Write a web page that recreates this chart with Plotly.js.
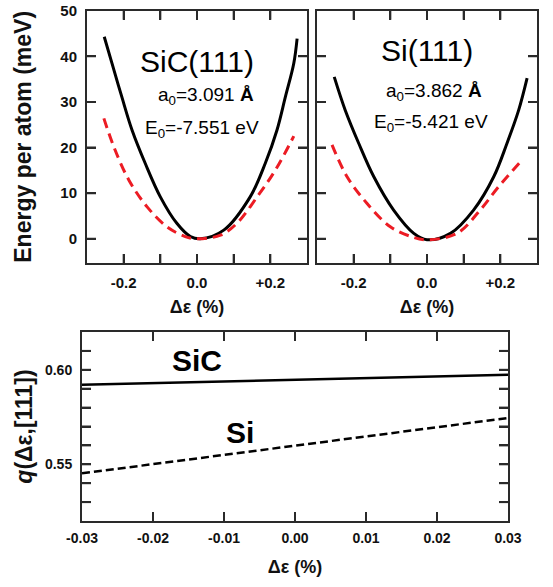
<!DOCTYPE html>
<html>
<head>
<meta charset="utf-8">
<script src="https://cdn.plot.ly/plotly-3.0.1.min.js"></script>
</head>
<body style="margin:0;background:#ffffff">
<div id="chart" style="width:553px;height:587px"></div>
<script>
// Energy per atom vs. strain along [111], calculated (solid) and model (dashed)
const sicStrain      = [-0.253, -0.232, -0.205, -0.177, -0.141, -0.100, -0.055, -0.018, 0.009, 0.073, 0.145, 0.186, 0.218, 0.241, 0.264, 0.273];
const sicEnergy      = [44.3, 38.5, 31.1, 23.8, 16.5, 9.2, 3.4, 0.5, 0.0, 1.9, 9.2, 16.5, 23.8, 31.1, 38.5, 43.9];
const sicStrainModel = [-0.254, -0.227, -0.186, -0.136, -0.082, -0.032, 0.0, 0.064, 0.109, 0.164, 0.214, 0.264];
const sicEnergyModel = [26.4, 20.2, 12.9, 7.0, 2.65, 0.5, 0.0, 0.8, 3.4, 9.2, 15.1, 22.5];

const siStrain       = [-0.253, -0.223, -0.186, -0.145, -0.091, -0.036, 0.0, 0.064, 0.127, 0.182, 0.218, 0.250, 0.273];
const siEnergy       = [35.5, 28.2, 20.9, 13.6, 6.3, 1.2, -0.2, 1.2, 6.3, 13.6, 20.9, 28.2, 35.2];
const siStrainModel  = [-0.259, -0.218, -0.164, -0.100, -0.040, 0.0, 0.082, 0.145, 0.195, 0.255];
const siEnergyModel  = [20.6, 13.6, 7.8, 2.65, 0.4, -0.2, 1.2, 6.3, 11.4, 16.9];

// q(Δε,[111]) over a small strain window
const smallStrain = [-0.03, 0.0, 0.03];
const qSiC        = [0.5921, 0.5947, 0.5974];
const qSi         = [0.5452, 0.5598, 0.5745];

// tick positions and labels
const topTickVals   = [-0.2, -0.1, 0.0, 0.1, 0.2];
const topTickText   = ['-0.2', ' ', '0.0', ' ', '+0.2'];
const energyTicks   = [0, 10, 20, 30, 40, 50];
const smallTickVals = [-0.03, -0.02, -0.01, 0.0, 0.01, 0.02, 0.03];
const smallTickText = ['-0.03', '-0.02', '-0.01', '0.00', '0.01', '0.02', '0.03'];
const qTickVals     = [0.53, 0.54, 0.55, 0.56, 0.57, 0.58, 0.59, 0.60, 0.61];
const qTickText     = [' ', ' ', '0.55', ' ', ' ', ' ', ' ', '0.60', ' '];

const FONT = 'Arial, "Liberation Sans", Helvetica, sans-serif';
const FRAME = '#2a2a2a';
const RED = '#ec1c24';

const STRAIN_RANGE = [-0.3, 0.3];
const ENERGY_RANGE = [-5.3, 50];
const SMALL_RANGE  = [-0.03, 0.03];
const Q_RANGE      = [0.52, 0.62];

function frameAxis(extra) {
  return Object.assign({
    showline: true, linecolor: FRAME, linewidth: 2, mirror: 'ticks',
    ticks: 'inside', ticklen: 9, tickwidth: 2, tickcolor: FRAME,
    showgrid: false, zeroline: false, layer: 'above traces',
    tickfont: { family: FONT, size: 15, color: '#111', weight: 'bold' },
    ticklabelstandoff: 5
  }, extra);
}

// Inward tick marks on all four sides of a panel, drawn as one line trace.
// lenX / lenY: tick length as a fraction of the axis span.
function tickTrace(xa, ya, xr, yr, xvals, yvals, lenX, lenY) {
  const dx = (xr[1] - xr[0]) * lenX, dy = (yr[1] - yr[0]) * lenY;
  const x = [], y = [];
  xvals.forEach(v => {
    x.push(v, v, null, v, v, null);
    y.push(yr[0], yr[0] + dy, null, yr[1], yr[1] - dy, null);
  });
  yvals.forEach(v => {
    x.push(xr[0], xr[0] + dx, null, xr[1], xr[1] - dx, null);
    y.push(v, v, null, v, v, null);
  });
  return { x, y, xaxis: xa, yaxis: ya, mode: 'lines', hoverinfo: 'skip',
           line: { color: FRAME, width: 2 }, connectgaps: false, cliponaxis: false };
}

const solid = (w) => ({ color: '#000', width: w, shape: 'spline', smoothing: 1 });
const redDash = { color: RED, width: 3, dash: '10px,6px', shape: 'spline', smoothing: 1 };

const innerEnergyTicks = energyTicks.filter(v => v < ENERGY_RANGE[1]);
const innerSmallTicks = smallTickVals.slice(1, -1);

const traces = [
  tickTrace('x', 'y', STRAIN_RANGE, ENERGY_RANGE, topTickVals, innerEnergyTicks, 9 / 220, 9 / 252),
  tickTrace('x2', 'y2', STRAIN_RANGE, ENERGY_RANGE, topTickVals, innerEnergyTicks, 9 / 220, 9 / 252),
  tickTrace('x3', 'y3', SMALL_RANGE, Q_RANGE, innerSmallTicks, qTickVals, 9 / 426, 9 / 189),
  { x: sicStrain, y: sicEnergy, xaxis: 'x', yaxis: 'y', mode: 'lines', line: solid(3) },
  { x: sicStrainModel, y: sicEnergyModel, xaxis: 'x', yaxis: 'y', mode: 'lines', line: redDash },
  { x: siStrain, y: siEnergy, xaxis: 'x2', yaxis: 'y2', mode: 'lines', line: solid(3) },
  { x: siStrainModel, y: siEnergyModel, xaxis: 'x2', yaxis: 'y2', mode: 'lines', line: redDash },
  { x: smallStrain, y: qSiC, xaxis: 'x3', yaxis: 'y3', mode: 'lines',
    line: { color: '#000', width: 2.5 } },
  { x: smallStrain, y: qSi, xaxis: 'x3', yaxis: 'y3', mode: 'lines',
    line: { color: '#000', width: 2.5, dash: '8px,4px' } }
];

const W = 553, H = 587;
const titleFont = (s) => ({ family: FONT, size: s, color: '#111', weight: 'bold' });
const labelFont = (s) => ({ family: FONT, size: s, color: '#000' });

const layout = {
  width: W, height: H,
  margin: { l: 0, r: 0, t: 0, b: 0 },
  paper_bgcolor: '#ffffff', plot_bgcolor: '#ffffff',
  showlegend: false,
  xaxis: frameAxis({ domain: [87 / W, 307 / W], anchor: 'y', range: STRAIN_RANGE,
    tickvals: topTickVals, ticktext: topTickText,
    title: { text: 'Δε (%)', font: titleFont(18), standoff: 10 } }),
  yaxis: frameAxis({ domain: [1 - 263 / H, 1 - 10.7 / H], anchor: 'x', range: ENERGY_RANGE,
    tickvals: energyTicks,
    title: { text: 'Energy per atom (meV)', font: titleFont(23), standoff: 22 } }),
  xaxis2: frameAxis({ domain: [317 / W, 537 / W], anchor: 'y2', range: STRAIN_RANGE,
    tickvals: topTickVals, ticktext: topTickText,
    title: { text: 'Δε (%)', font: titleFont(18), standoff: 10 } }),
  yaxis2: frameAxis({ domain: [1 - 263 / H, 1 - 10.7 / H], anchor: 'x2', range: ENERGY_RANGE,
    tickvals: energyTicks, showticklabels: false }),
  xaxis3: frameAxis({ domain: [82 / W, 508 / W], anchor: 'y3', range: SMALL_RANGE,
    tickvals: smallTickVals, ticktext: smallTickText, ticklabelstandoff: 3,
    tickfont: { family: FONT, size: 14, color: '#111', weight: 'bold' },
    title: { text: 'Δε (%)', font: titleFont(18), standoff: 16 } }),
  yaxis3: frameAxis({ domain: [1 - 521 / H, 1 - 332 / H], anchor: 'x3', range: Q_RANGE,
    tickvals: qTickVals, ticktext: qTickText,
    tickfont: { family: FONT, size: 14, color: '#111', weight: 'bold' },
    title: { text: '<i>q</i>(Δε,[111])', font: titleFont(23), standoff: 6 } }),
  annotations: [
    { xref: 'x', yref: 'y', x: 0.0, y: 38.9, text: 'SiC(111)', showarrow: false, font: labelFont(30) },
    { xref: 'x', yref: 'y', x: 0.024, y: 31.3, text: 'a<sub>0</sub>=3.091 <b>Å</b>', showarrow: false, font: labelFont(19) },
    { xref: 'x', yref: 'y', x: 0.014, y: 24.1, text: 'E<sub>0</sub>=-7.551 eV', showarrow: false, font: labelFont(19) },
    { xref: 'x2', yref: 'y2', x: 0.0, y: 41.2, text: 'Si(111)', showarrow: false, font: labelFont(30) },
    { xref: 'x2', yref: 'y2', x: 0.020, y: 32.2, text: 'a<sub>0</sub>=3.862 <b>Å</b>', showarrow: false, font: labelFont(19) },
    { xref: 'x2', yref: 'y2', x: 0.011, y: 25.4, text: 'E<sub>0</sub>=-5.421 eV', showarrow: false, font: labelFont(19) },
    { xref: 'x3', yref: 'y3', x: -0.0138, y: 0.6049, text: 'SiC', showarrow: false,
      font: { family: FONT, size: 30, color: '#000', weight: 'bold' } },
    { xref: 'x3', yref: 'y3', x: -0.0077, y: 0.5669, text: 'Si', showarrow: false,
      font: { family: FONT, size: 30, color: '#000', weight: 'bold' } }
  ]
};

Plotly.newPlot('chart', traces, layout, { staticPlot: true, displayModeBar: false });
</script>
</body>
</html>
